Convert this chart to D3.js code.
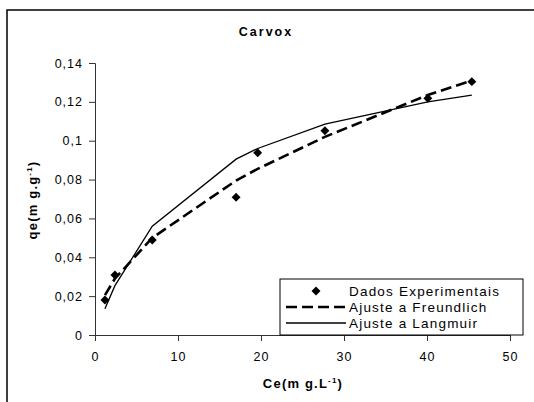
<!DOCTYPE html>
<html><head><meta charset="utf-8">
<script src="https://cdn.jsdelivr.net/npm/d3@7"></script>
<style>body{margin:0;background:#fff}svg{display:block;font-family:"Liberation Sans",Arial,sans-serif}</style>
</head><body><svg id="c" width="534" height="402"></svg>
<script>
const ce = [1.2, 2.4, 6.9, 17.0, 19.6, 27.7, 40.1, 45.4];
const experimental = [0.018, 0.0309, 0.0489, 0.0709, 0.0938, 0.1051, 0.1218, 0.1304];
const freundlich = [0.0205, 0.0290, 0.0500, 0.0795, 0.0855, 0.1020, 0.1235, 0.1310];
const langmuir = [0.0135, 0.0254, 0.0560, 0.0905, 0.0960, 0.1085, 0.1200, 0.1235];
const xTicks = [0, 10, 20, 30, 40, 50];
const yTicks = [0, 0.02, 0.04, 0.06, 0.08, 0.1, 0.12, 0.14];
const legendLabels = ["Dados Experimentais", "Ajuste a Freundlich", "Ajuste a Langmuir"];

const svg = d3.select("#c");
const x = d3.scaleLinear().domain([0, 50]).range([95, 510]);
const y = d3.scaleLinear().domain([0, 0.14]).range([335, 63]);
const fmt = v => String(+v.toFixed(2)).replace(".", ",");

// outer frame (only left/top visible)
svg.append("rect").attr("x", 7).attr("y", 10).attr("width", 600).attr("height", 500)
  .attr("fill", "none").attr("stroke", "#000").attr("stroke-width", 1.5);

svg.append("text").attr("x", 266).attr("y", 36).attr("text-anchor", "middle")
  .style("font-size", "12.5px").style("font-weight", "bold").style("letter-spacing", "2px").text("Carvox");

// axes
const gx = svg.append("g").attr("transform", "translate(0,335)")
  .call(d3.axisBottom(x).tickValues(xTicks).tickSize(6).tickPadding(11).tickFormat(d => d));
const gy = svg.append("g").attr("transform", "translate(95,0)")
  .call(d3.axisLeft(y).tickValues(yTicks).tickSize(6).tickPadding(6).tickFormat(fmt));
[gx, gy].forEach(g => {
  g.select(".domain").attr("stroke", "#333");
  g.selectAll(".tick line").attr("stroke", "#333");
  g.selectAll("text").style("font-size", "12.5px").style("letter-spacing", "1px")
    .attr("fill", "#000").style("font-family", "'Liberation Sans',Arial,sans-serif");
});
gx.selectAll(".tick line").attr("y1", 0);

// axis titles
const xt = svg.append("text").attr("x", 303).attr("y", 388).attr("text-anchor", "middle")
  .style("font-size", "13px").style("font-weight", "bold").style("letter-spacing", "1.2px");
xt.append("tspan").text("Ce(m g.L");
xt.append("tspan").attr("dy", -5).style("font-size", "8px").text("-1");
xt.append("tspan").attr("dy", 5).text(")");

const yt = svg.append("text").attr("transform", "translate(37,200) rotate(-90)").attr("text-anchor", "middle")
  .style("font-size", "13px").style("font-weight", "bold").style("letter-spacing", "1.2px");
yt.append("tspan").text("qe(m g.g");
yt.append("tspan").attr("dy", -5).style("font-size", "8px").text("-1");
yt.append("tspan").attr("dy", 5).text(")");

// lines
const line = d3.line().x((d, i) => x(ce[i])).y(d => y(d));
svg.append("path").datum(langmuir).attr("d", line).attr("fill", "none")
  .attr("stroke", "#000").attr("stroke-width", 1.3);
svg.append("path").datum(freundlich).attr("d", line).attr("fill", "none")
  .attr("stroke", "#000").attr("stroke-width", 2.6).attr("stroke-dasharray", "11,5");

// points
const diamond = d3.symbol().type(d3.symbolSquare).size(40);
svg.selectAll(".pt").data(experimental).join("path").attr("class", "pt")
  .attr("d", diamond).attr("fill", "#000")
  .attr("transform", (d, i) => `translate(${x(ce[i])},${y(d)}) rotate(45)`);

// legend
const lg = svg.append("g");
lg.append("rect").attr("x", 280).attr("y", 279).attr("width", 243).attr("height", 56)
  .attr("fill", "#fff").attr("stroke", "#000").attr("stroke-width", 1);
const rows = [291, 307, 323];
lg.append("path").attr("d", diamond).attr("fill", "#000")
  .attr("transform", `translate(316,${rows[0]}) rotate(45)`);
lg.append("line").attr("x1", 286).attr("x2", 346).attr("y1", rows[1]).attr("y2", rows[1])
  .attr("stroke", "#000").attr("stroke-width", 2.6).attr("stroke-dasharray", "11,5");
lg.append("line").attr("x1", 286).attr("x2", 346).attr("y1", rows[2]).attr("y2", rows[2])
  .attr("stroke", "#000").attr("stroke-width", 1.3);
lg.selectAll(".lt").data(legendLabels).join("text").attr("class", "lt")
  .attr("x", 349).attr("y", (d, i) => rows[i] + 5)
  .style("font-size", "13.5px").style("letter-spacing", "1.2px").text(d => d);
</script></body></html>
